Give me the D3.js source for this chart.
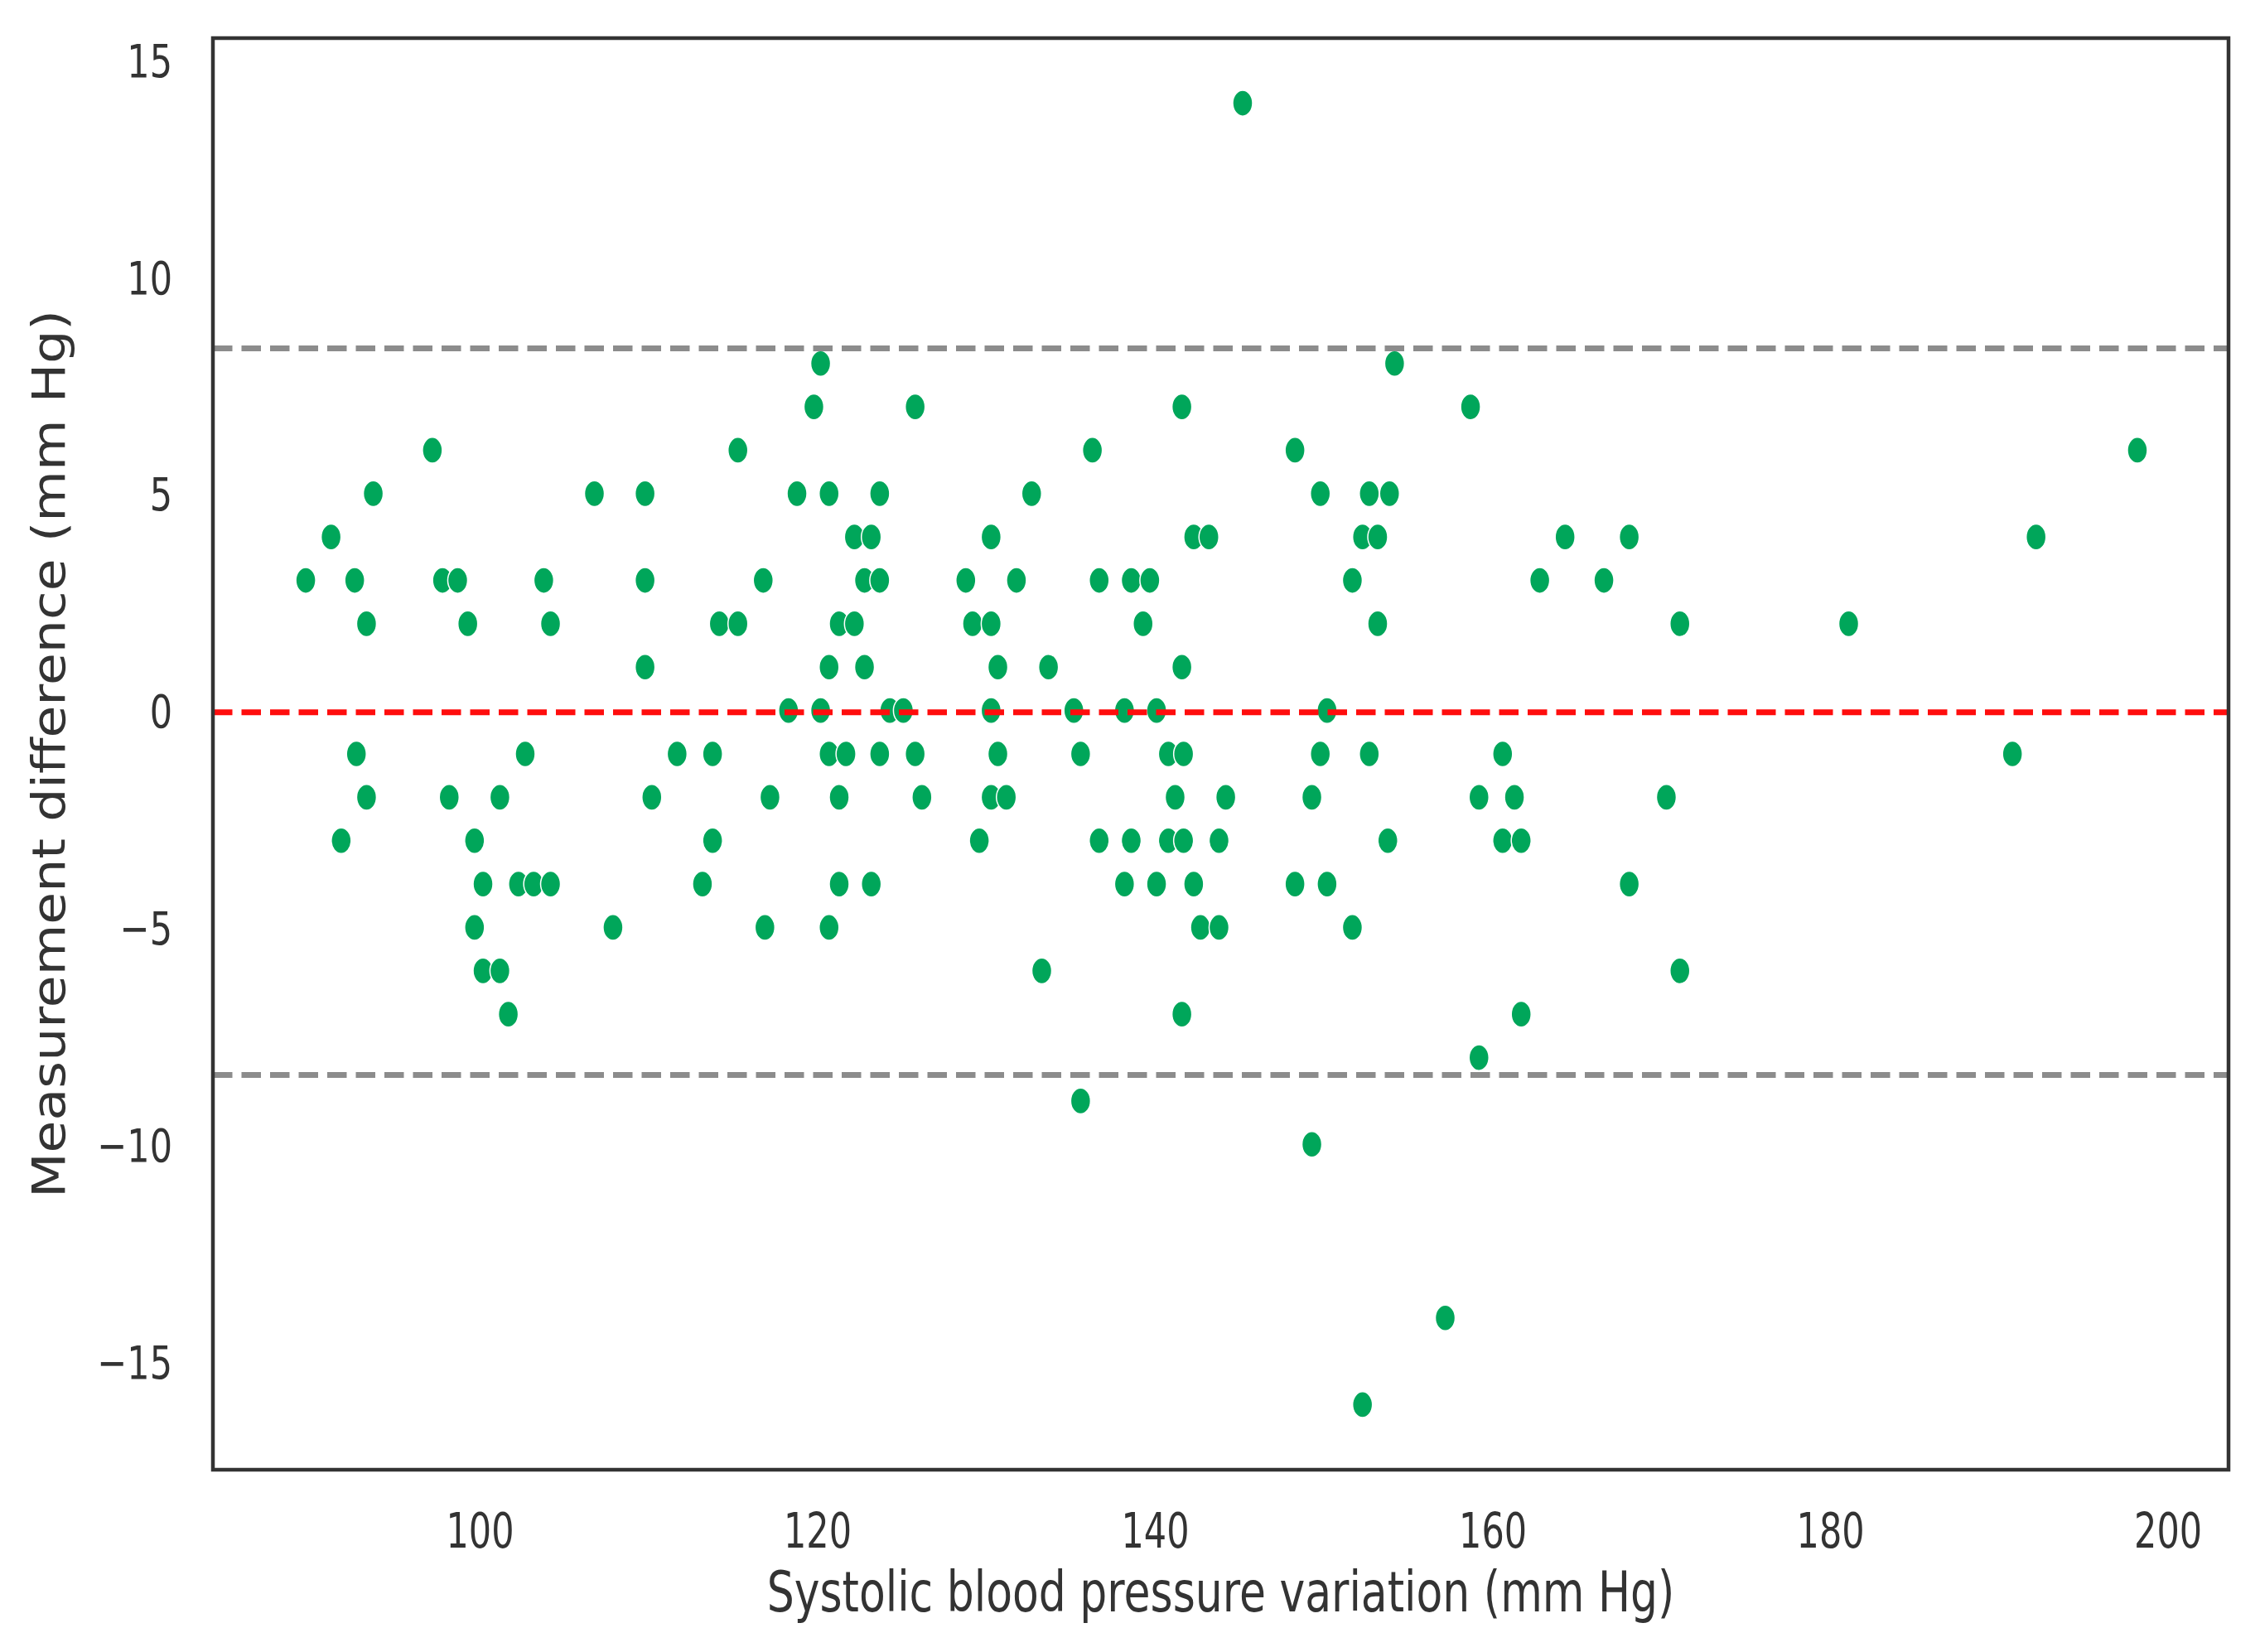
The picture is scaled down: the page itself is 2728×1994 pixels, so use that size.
<!DOCTYPE html>
<html lang="en">
<head>
<meta charset="utf-8">
<title>Measurement difference vs systolic blood pressure</title>
<script src="https://cdn.jsdelivr.net/npm/d3@7"></script>
<style>
    body { margin: 0; background: #ffffff; }
    text { font-family: "DejaVu Sans", sans-serif; }
</style>
</head>
<body>
<div id="chart"></div>
<script>
const systolic = [
    145.2,
    120.2, 154.2,
    119.8, 125.8, 141.6, 158.7,
    97.2, 115.3, 136.3, 148.3, 198.2,
    93.7, 106.8, 109.8, 118.8, 120.7, 123.7, 132.7, 149.8, 152.7, 153.9,
    91.2, 122.2, 123.2, 130.3, 142.3, 143.2, 152.3, 153.2, 164.3, 168.1, 192.2,
    89.7, 92.6, 97.8, 98.7, 103.8, 109.8, 116.8, 122.8, 123.7, 128.8, 131.8, 136.7, 138.6, 139.7, 151.7, 162.8, 166.6,
    93.3, 99.3, 104.2, 114.2, 115.3, 121.3, 122.2, 129.2, 130.3, 139.3, 153.2, 171.1, 181.1,
    109.8, 120.7, 122.8, 130.7, 133.7, 141.6,
    118.3, 120.2, 124.3, 125.1, 130.3, 135.2, 138.2, 140.1, 150.2,
    92.7, 102.7, 111.7, 113.8, 120.7, 121.7, 123.7, 125.8, 130.7, 135.6, 140.8, 141.7, 149.8, 152.7, 160.6, 190.8,
    93.3, 98.2, 101.2, 110.2, 117.2, 121.3, 126.2, 130.3, 131.2, 141.2, 144.2, 149.3, 159.2, 161.3, 170.3,
    91.8, 99.7, 113.8, 129.6, 136.7, 138.6, 140.8, 141.7, 143.8, 153.8, 160.6, 161.7,
    100.2, 102.3, 103.2, 104.2, 113.2, 121.3, 123.2, 138.2, 140.1, 142.3, 148.3, 150.2, 168.1,
    99.7, 107.9, 116.9, 120.7, 142.7, 143.8, 151.7,
    100.2, 101.2, 133.3, 171.1,
    101.7, 141.6, 161.7,
    159.2, 135.6, 149.3, 157.2, 152.3
];
const difference = [
    14,
    8, 8,
    7, 7, 7, 7,
    6, 6, 6, 6, 6,
    5, 5, 5, 5, 5, 5, 5, 5, 5, 5,
    4, 4, 4, 4, 4, 4, 4, 4, 4, 4, 4,
    3, 3, 3, 3, 3, 3, 3, 3, 3, 3, 3, 3, 3, 3, 3, 3, 3,
    2, 2, 2, 2, 2, 2, 2, 2, 2, 2, 2, 2, 2,
    1, 1, 1, 1, 1, 1,
    0, 0, 0, 0, 0, 0, 0, 0, 0,
    -1, -1, -1, -1, -1, -1, -1, -1, -1, -1, -1, -1, -1, -1, -1, -1,
    -2, -2, -2, -2, -2, -2, -2, -2, -2, -2, -2, -2, -2, -2, -2,
    -3, -3, -3, -3, -3, -3, -3, -3, -3, -3, -3, -3,
    -4, -4, -4, -4, -4, -4, -4, -4, -4, -4, -4, -4, -4,
    -5, -5, -5, -5, -5, -5, -5,
    -6, -6, -6, -6,
    -7, -7, -7,
    -8, -9, -10, -14, -16
];

const xTicks = [100, 120, 140, 160, 180, 200];
const yTicks = [-15, -10, -5, 0, 5, 10, 15];
const xDomain = [84.2, 203.6];
const yDomain = [-17.5, 15.5];

const meanDiff = -0.04;
const upperLimit = 8.35;
const lowerLimit = -8.4;

const xLabel = "Systolic blood pressure variation (mm Hg)";
const yLabel = "Measurement difference (mm Hg)";

var width = 2728, height = 1994;
var margin = {top: 46, right: 38, bottom: 220, left: 257};
var w = width - margin.left - margin.right,
    h = height - margin.top - margin.bottom;

// the picture is stretched vertically, text and markers with it
var stretch = 1.3;

var points = systolic.map((d, i) => ({x: d, y: difference[i]}));

var x = d3.scaleLinear().domain(xDomain).range([0, w]);
var y = d3.scaleLinear().domain(yDomain).range([h, 0]);

var svg = d3.select("#chart")
    .append("svg")
    .attr("width", width)
    .attr("height", height);

svg.append("rect")
    .attr("width", width)
    .attr("height", height)
    .attr("fill", "#ffffff");

var g = svg.append("g")
    .attr("transform", `translate(${margin.left},${margin.top})`);

// markers
g.selectAll("ellipse.dot")
    .data(points)
    .enter()
    .append("ellipse")
    .attr("class", "dot")
    .attr("cx", d => x(d.x))
    .attr("cy", d => y(d.y))
    .attr("rx", 12)
    .attr("ry", 12 * stretch)
    .style("fill", "#00a65a")
    .style("stroke", "#ffffff")
    .style("stroke-width", 1.5);

// mean and limits of agreement
var refLines = [
    {value: upperLimit, color: "#8c8c8c"},
    {value: lowerLimit, color: "#8c8c8c"},
    {value: meanDiff, color: "#ff0d0d"}
];

g.selectAll("line.ref")
    .data(refLines)
    .enter()
    .append("line")
    .attr("class", "ref")
    .attr("x1", 0)
    .attr("x2", w)
    .attr("y1", d => y(d.value))
    .attr("y2", d => y(d.value))
    .style("stroke", d => d.color)
    .style("stroke-width", 7)
    .style("stroke-dasharray", "23.5,11");

// axes, labels only
var xAxis = d3.axisBottom(x).tickValues(xTicks).tickSize(0).tickFormat(d3.format("d"));
var yAxis = d3.axisLeft(y).tickValues(yTicks).tickSize(0);

var gx = g.append("g")
    .attr("transform", `translate(0,${h})`)
    .call(xAxis)
    .attr("font-size", 43)
    .attr("font-family", "DejaVu Sans")
    .style("color", "#333333");
gx.select(".domain").remove();
gx.selectAll(".tick text")
    .attr("y", null)
    .attr("dy", null)
    .attr("transform", `translate(0,94) scale(1,${1.35})`);

var gy = g.append("g")
    .call(yAxis)
    .attr("font-size", 43)
    .attr("font-family", "DejaVu Sans")
    .style("color", "#333333");
gy.select(".domain").remove();
gy.selectAll(".tick text")
    .attr("x", null)
    .attr("dy", "0.36em")
    .attr("transform", `translate(-49,0) scale(1,${stretch})`);

g.append("text")
    .attr("transform", `translate(${w / 2},${h + 171}) scale(1,${stretch})`)
    .attr("text-anchor", "middle")
    .style("font-size", "52px")
    .style("fill", "#333333")
    .text(xLabel);

g.append("text")
    .attr("transform", `translate(${78 - margin.left},${h / 2}) scale(1,1.15) rotate(-90)`)
    .attr("text-anchor", "middle")
    .style("font-size", "55px")
    .style("fill", "#333333")
    .text(yLabel);

// frame
g.append("rect")
    .attr("width", w)
    .attr("height", h)
    .style("fill", "none")
    .style("stroke", "#333333")
    .style("stroke-width", 4.5);
</script>
</body>
</html>
